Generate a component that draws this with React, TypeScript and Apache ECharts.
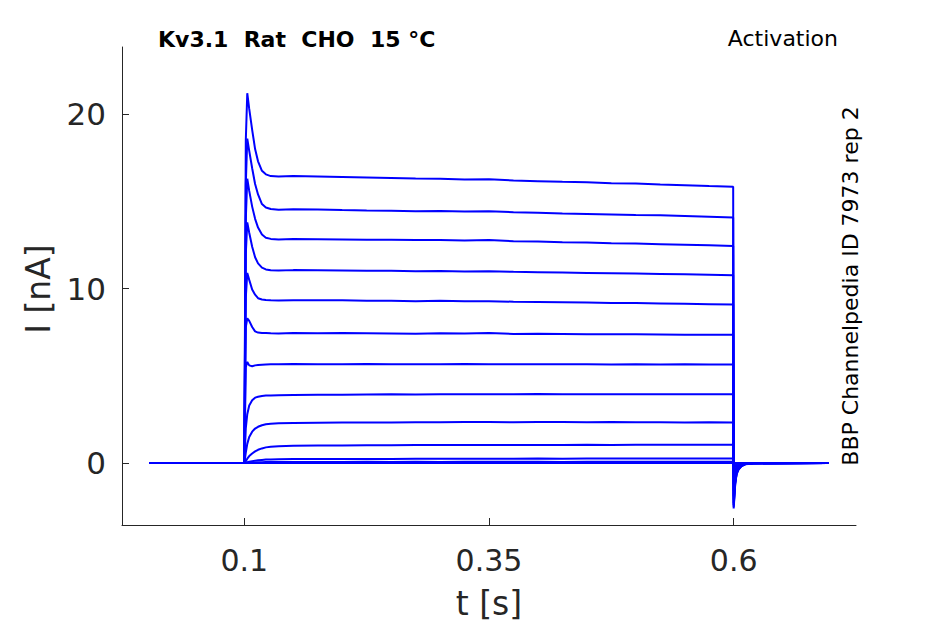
import React, { useEffect, useRef } from "react";
import * as echarts from "echarts";

const T = [0.003, 0.1, 0.1015, 0.103, 0.105, 0.108, 0.111, 0.114, 0.118, 0.122, 0.127, 0.135, 0.15, 0.175, 0.2, 0.225, 0.25, 0.275, 0.3, 0.325, 0.35, 0.375, 0.4, 0.425, 0.45, 0.475, 0.5, 0.525, 0.55, 0.575, 0.5995, 0.6, 0.6008, 0.6016, 0.603, 0.605, 0.608, 0.612, 0.62, 0.697];

const trace1 = [0, 0, 18.5, 21.2, 20.3, 19.1, 18.0, 17.3, 16.75, 16.55, 16.45, 16.42, 16.46, 16.43, 16.4, 16.37, 16.34, 16.31, 16.3, 16.26, 16.27, 16.2, 16.16, 16.12, 16.1, 16.04, 16.02, 15.97, 15.93, 15.88, 15.84, -2.6, -1.9, -1.2, -0.65, -0.38, -0.18, -0.07, -0.02, 0];
const trace2 = [0, 0, 16.0, 18.6, 17.9, 16.9, 16.0, 15.4, 14.85, 14.65, 14.56, 14.52, 14.55, 14.53, 14.5, 14.48, 14.47, 14.44, 14.45, 14.42, 14.44, 14.38, 14.35, 14.3, 14.28, 14.25, 14.22, 14.2, 14.16, 14.12, 14.08, -2.5, -1.8, -1.15, -0.6, -0.35, -0.17, -0.06, -0.02, 0];
const trace3 = [0, 0, 14.0, 16.3, 15.6, 14.7, 14.0, 13.5, 13.1, 12.92, 12.85, 12.82, 12.84, 12.83, 12.82, 12.8, 12.8, 12.78, 12.79, 12.76, 12.78, 12.72, 12.7, 12.66, 12.64, 12.6, 12.58, 12.55, 12.52, 12.48, 12.44, -2.4, -1.7, -1.1, -0.58, -0.33, -0.16, -0.06, -0.02, 0];
const trace4 = [0, 0, 12.0, 13.8, 13.2, 12.4, 11.8, 11.45, 11.2, 11.1, 11.05, 11.04, 11.06, 11.05, 11.04, 11.03, 11.02, 11.0, 11.01, 10.98, 11.0, 10.96, 10.94, 10.92, 10.9, 10.88, 10.86, 10.84, 10.82, 10.8, 10.77, -2.3, -1.6, -1.0, -0.55, -0.31, -0.15, -0.05, -0.01, 0];
const trace5 = [0, 0, 9.5, 10.9, 10.5, 9.95, 9.65, 9.45, 9.38, 9.35, 9.33, 9.32, 9.34, 9.33, 9.33, 9.31, 9.3, 9.28, 9.3, 9.27, 9.28, 9.25, 9.24, 9.22, 9.2, 9.18, 9.17, 9.15, 9.13, 9.11, 9.09, -2.1, -1.5, -0.95, -0.5, -0.29, -0.14, -0.05, -0.01, 0];
const trace6 = [0, 0, 7.8, 8.3, 8.15, 7.8, 7.55, 7.48, 7.45, 7.45, 7.44, 7.43, 7.45, 7.44, 7.45, 7.44, 7.43, 7.42, 7.44, 7.43, 7.45, 7.4, 7.41, 7.4, 7.39, 7.38, 7.38, 7.37, 7.36, 7.36, 7.35, -1.9, -1.35, -0.85, -0.45, -0.26, -0.12, -0.04, -0.01, 0];
const trace7 = [0, 0, 5.5, 5.8, 5.6, 5.55, 5.6, 5.62, 5.64, 5.65, 5.66, 5.66, 5.68, 5.66, 5.67, 5.68, 5.66, 5.67, 5.66, 5.68, 5.67, 5.66, 5.67, 5.66, 5.66, 5.65, 5.66, 5.65, 5.66, 5.65, 5.65, -1.6, -1.15, -0.72, -0.38, -0.22, -0.1, -0.04, -0.01, 0];
const trace8 = [0, 0, 2.0, 2.8, 3.3, 3.6, 3.75, 3.8, 3.85, 3.87, 3.88, 3.89, 3.9, 3.91, 3.92, 3.93, 3.94, 3.93, 3.95, 3.94, 3.95, 3.95, 3.96, 3.95, 3.94, 3.95, 3.95, 3.94, 3.95, 3.94, 3.94, -1.2, -0.85, -0.54, -0.29, -0.17, -0.08, -0.03, 0, 0];
const trace9 = [0, 0, 0.6, 1.1, 1.5, 1.8, 1.98, 2.08, 2.17, 2.22, 2.25, 2.28, 2.3, 2.31, 2.32, 2.33, 2.33, 2.34, 2.34, 2.35, 2.35, 2.34, 2.35, 2.35, 2.34, 2.35, 2.34, 2.34, 2.33, 2.34, 2.33, -0.8, -0.57, -0.36, -0.19, -0.11, -0.05, -0.02, 0, 0];
const trace10 = [0, 0, 0.1, 0.25, 0.4, 0.55, 0.67, 0.76, 0.84, 0.9, 0.94, 0.97, 0.99, 1.0, 1.01, 1.02, 1.02, 1.03, 1.03, 1.03, 1.03, 1.04, 1.04, 1.04, 1.05, 1.04, 1.05, 1.05, 1.05, 1.05, 1.05, -0.4, -0.28, -0.18, -0.1, -0.06, -0.03, -0.01, 0, 0];
const trace11 = [0, 0, 0.02, 0.05, 0.08, 0.11, 0.14, 0.16, 0.18, 0.2, 0.21, 0.22, 0.23, 0.23, 0.24, 0.24, 0.24, 0.25, 0.25, 0.25, 0.25, 0.25, 0.26, 0.25, 0.26, 0.26, 0.26, 0.26, 0.26, 0.26, 0.26, -0.1, -0.07, -0.05, -0.03, -0.02, -0.01, 0, 0, 0];
const trace12 = [0, 0, 0, 0.01, 0.02, 0.03, 0.04, 0.05, 0.05, 0.06, 0.06, 0.06, 0.06, 0.06, 0.06, 0.07, 0.06, 0.07, 0.06, 0.07, 0.07, 0.07, 0.07, 0.06, 0.07, 0.07, 0.07, 0.07, 0.07, 0.07, 0.07, -0.03, -0.02, -0.01, 0, 0, 0, 0, 0, 0];
const trace13 = [0, 0, 0, 0, 0, 0, 0, 0, 0, 0, 0, 0, 0, 0, 0, 0, 0, 0, 0, 0, 0, 0, 0, 0, 0, 0, 0, 0, 0, 0, 0, 0, 0, 0, 0, 0, 0, 0, 0, 0];

const TRACES = [trace13, trace12, trace11, trace10, trace9, trace8, trace7, trace6, trace5, trace4, trace3, trace2, trace1];

const X_TICKS = [0.1, 0.35, 0.6];
const Y_TICKS = [0, 10, 20];

const TITLE = "Kv3.1  Rat  CHO  15 °C";
const SUBTITLE = "Activation";
const SIDE_TEXT = "BBP Channelpedia ID 7973 rep 2";
const X_NAME = "t [s]";
const Y_NAME = "I [nA]";

const FONT = "'DejaVu Sans', sans-serif";
const AXIS_COLOR = "#262626";

export default function App() {
  const ref = useRef<HTMLDivElement>(null);
  useEffect(() => {
    if (!ref.current) return;
    const chart = echarts.init(ref.current, null, { renderer: "svg" });
    const series = TRACES.map((tr, i) => ({
      type: "line",
      name: "trace" + i,
      data: T.map((t, j) => [t, tr[j]]),
      showSymbol: false,
      symbol: "none",
      lineStyle: { color: "#0000ff", width: 2 },
      itemStyle: { color: "#0000ff" },
      emphasis: { disabled: true },
      z: 2,
    }));
    chart.setOption({
      animation: false,
      backgroundColor: "#ffffff",
      grid: { left: 122, right: 89, top: 47, bottom: 99, containLabel: false },
      xAxis: {
        type: "value",
        min: -0.025,
        max: 0.725,
        splitLine: { show: false },
        axisLine: { show: true, onZero: false, lineStyle: { color: AXIS_COLOR, width: 1 } },
        axisTick: { show: true, inside: true, length: 7, customValues: X_TICKS, lineStyle: { color: AXIS_COLOR } },
        axisLabel: {
          customValues: X_TICKS,
          formatter: (v: number) => String(v),
          fontSize: 30,
          fontFamily: FONT,
          color: AXIS_COLOR,
          margin: 20,
        },
      },
      yAxis: {
        type: "value",
        min: -3.55,
        max: 23.85,
        splitLine: { show: false },
        axisLine: { show: true, onZero: false, lineStyle: { color: AXIS_COLOR, width: 1 } },
        axisTick: { show: true, inside: true, length: 7, customValues: Y_TICKS, lineStyle: { color: AXIS_COLOR } },
        axisLabel: {
          customValues: Y_TICKS,
          formatter: (v: number) => String(v),
          fontSize: 31,
          fontFamily: FONT,
          color: AXIS_COLOR,
          margin: 16,
        },
      },
      graphic: [
        {
          type: "text",
          x: 158,
          y: 39,
          style: { text: TITLE, fontSize: 22, fontWeight: "bold", fontFamily: FONT, fill: "#000", align: "left", verticalAlign: "middle" },
        },
        {
          type: "text",
          x: 838,
          y: 38,
          style: { text: SUBTITLE, fontSize: 22, fontFamily: FONT, fill: "#000", align: "right", verticalAlign: "middle" },
        },
        {
          type: "text",
          x: 850,
          y: 286,
          rotation: Math.PI / 2,
          style: { text: SIDE_TEXT, fontSize: 22, fontFamily: FONT, fill: "#000", align: "center", verticalAlign: "middle" },
        },
        {
          type: "text",
          x: 38,
          y: 289,
          rotation: Math.PI / 2,
          style: { text: Y_NAME, fontSize: 33, fontFamily: FONT, fill: AXIS_COLOR, align: "center", verticalAlign: "middle" },
        },
        {
          type: "text",
          x: 489,
          y: 603,
          style: { text: X_NAME, fontSize: 33, fontFamily: FONT, fill: AXIS_COLOR, align: "center", verticalAlign: "middle" },
        },
      ],
      series,
    });
    return () => chart.dispose();
  }, []);
  return <div ref={ref} style={{ position: "fixed", left: 0, top: 0, width: 945, height: 624 }} />;
}
